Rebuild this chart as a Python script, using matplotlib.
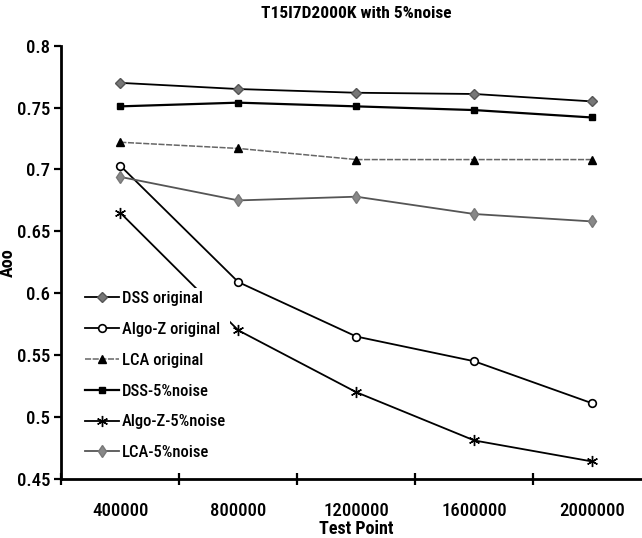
import numpy as np
import matplotlib.pyplot as plt
from matplotlib.ticker import FixedLocator, MultipleLocator, FuncFormatter

plt.rcParams['font.family'] = ['Liberation Sans Narrow', 'Arial Narrow', 'Roboto Condensed',
                               'PT Sans Narrow', 'Archivo Narrow', 'Liberation Sans', 'DejaVu Sans']

test_points = ['400000', '800000', '1200000', '1600000', '2000000']

dss_orig = [0.770, 0.765, 0.762, 0.761, 0.755]
algoz_orig = [0.703, 0.609, 0.565, 0.545, 0.511]
lca_orig = [0.722, 0.717, 0.708, 0.708, 0.708]
dss_noise = [0.751, 0.754, 0.751, 0.748, 0.742]
algoz_noise = [0.665, 0.570, 0.520, 0.481, 0.464]
lca_noise = [0.694, 0.675, 0.678, 0.664, 0.658]

x = np.arange(len(test_points))

fig = plt.figure(figsize=(6.42, 5.38), dpi=100)
# plot area runs a little past the right edge of the figure
ax = fig.add_axes([0.0955, 0.110, 0.919, 0.805])

ax.plot(x, dss_orig, '-', color='black', lw=1.3, marker='D', ms=5,
        mfc='#777777', mec='#555555', label='DSS original')
ax.plot(x, algoz_orig, '-', color='black', lw=1.3, marker='o', ms=5.5,
        mfc='white', mec='black', mew=1.2, label='Algo-Z original')
ax.plot(x, lca_orig, '--', color='#666666', lw=1.1, dashes=(4, 1),
        marker='^', ms=5.5, mfc='black', mec='black', label='LCA original')
ax.plot(x, dss_noise, '-', color='black', lw=1.6, marker='s', ms=5,
        mfc='black', mec='black', label='DSS-5%noise')
ax.plot(x, algoz_noise, '-', color='black', lw=1.3, marker=(6, 2, 0), ms=8,
        mec='black', mew=1.0, label='Algo-Z-5%noise')
ax.plot(x, lca_noise, '-', color='#555555', lw=1.3, marker='d', ms=6,
        mfc='#888888', mec='#777777', label='LCA-5%noise')

ax.set_xlim(-0.5, 4.5)
ax.set_ylim(0.45, 0.8)
ax.set_xticks(x)
ax.set_xticklabels(test_points)
ax.xaxis.set_minor_locator(FixedLocator(np.arange(-0.5, 5, 1)))
ax.tick_params(axis='x', which='major', length=0, pad=17, labelsize=13.5)
ax.tick_params(axis='x', which='minor', direction='inout', length=8, width=1.6)
ax.yaxis.set_major_locator(MultipleLocator(0.05))
ax.yaxis.set_major_formatter(FuncFormatter(lambda v, pos: '%g' % round(v, 2)))
ax.tick_params(axis='y', direction='out', length=5, width=1.6, pad=3, labelsize=13.5)
for lbl in ax.get_xticklabels() + ax.get_yticklabels():
    lbl.set_fontweight('medium')

for side in ['top', 'right']:
    ax.spines[side].set_visible(False)
for side in ['left', 'bottom']:
    ax.spines[side].set_linewidth(2)

ax.set_title('T15I7D2000K with 5%noise', fontsize=12.5, fontweight='bold', pad=20)
ax.set_xlabel('Test Point', fontsize=13, fontweight='bold', labelpad=0)
ax.set_ylabel('Aoo', fontsize=13, fontweight='bold')
ax.yaxis.set_label_coords(-0.075, 0.5)

# legend sits on a plain white box with no border, hiding the lines behind it
leg = ax.legend(loc='lower left', bbox_to_anchor=(0.035, 0.035), frameon=True,
                fancybox=False, framealpha=1, facecolor='white', edgecolor='none',
                fontsize=12, handlelength=2.0, handletextpad=0.2,
                labelspacing=0.95, borderaxespad=0.0, borderpad=0.2)
for t in leg.get_texts():
    t.set_fontweight('medium')

fig.savefig('out.png', dpi=100)
